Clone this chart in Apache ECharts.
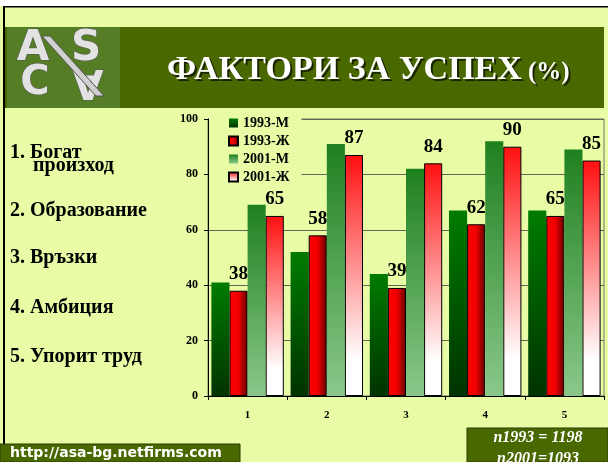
<!DOCTYPE html>
<html>
<head>
<meta charset="utf-8">
<script src="https://cdn.jsdelivr.net/npm/echarts@6/dist/echarts.min.js"></script>
<style>
  html, body { margin: 0; padding: 0; background: #fff; }
  #chart { width: 608px; height: 462px; }
</style>
</head>
<body>
<div id="chart"></div>
<script>
// Фактори за успех (%) — 1993 / 2001, мъже / жени
const categories = ['1', '2', '3', '4', '5']
const seriesNames = ['1993-М', '1993-Ж', '2001-М', '2001-Ж']
const m1993 = [41, 52, 44, 67, 67]
const f1993 = [38, 58, 39, 62, 65]
const m2001 = [69, 91, 82, 92, 89]
const f2001 = [65, 87, 84, 90, 85]
const yTicks = [0, 20, 40, 60, 80, 100]
const factorLabels = ['1. Богат', 'произход', '2. Образование', '3. Връзки', '4. Амбиция', '5. Упорит труд']
const sampleNotes = ['n1993 = 1198', 'n2001=1093']
const siteUrl = 'http://asa-bg.netfirms.com'
const titleText = 'ФАКТОРИ ЗА УСПЕХ'

const BG = '#e7fca5'
const HEAD = '#4a6800'
const SERIF = "'Liberation Serif', 'Times New Roman', serif"

const vgrad = (top, bottom) => new echarts.graphic.LinearGradient(0, 0, 0, 1, [
  { offset: 0, color: top }, { offset: 1, color: bottom }])

const barLabel = {
  show: true, position: 'top', distance: 7, color: '#000',
  fontFamily: SERIF, fontWeight: 'bold', fontSize: 19,
}

function logoText(ch, x, y, size, rot) {
  return {
    type: 'text', x, y, rotation: rot || 0, silent: true,
    style: { text: ch, fill: '#e2e2e2', stroke: '#555', lineWidth: 1,
      font: `bold ${size}px 'DejaVu Sans', sans-serif`, align: 'center', verticalAlign: 'middle' },
  }
}

// text centred vertically on y (y = baseline - ~0.32 * size)
function plainText(t, x, y, font, fill, align) {
  return { type: 'text', x, y, silent: true,
    style: { text: t, fill, font, align: align || 'left', verticalAlign: 'middle' } }
}

// left column of factor names
const factorPos = [[10, 153], [33, 166], [10, 211], [10, 258], [10, 308], [10, 357]]
const factorGraphics = factorLabels.map((t, i) =>
  plainText(t, factorPos[i][0], factorPos[i][1], `bold 20px ${SERIF}`, '#000'))

const chart = echarts.init(document.getElementById('chart'))
chart.setOption({
  backgroundColor: BG,
  animation: false,
  grid: {
    left: 208, right: 4, top: 119, bottom: 66,
    show: true, borderColor: '#777766', borderWidth: 1, backgroundColor: 'transparent',
  },
  legend: {
    orient: 'vertical', left: 209, top: 112,
    data: seriesNames,
    icon: 'rect',
    backgroundColor: BG,
    padding: [4, 12, 6, 19],
    itemWidth: 9, itemHeight: 9, itemGap: 4,
    textStyle: { fontFamily: SERIF, fontWeight: 'bold', fontSize: 14, lineHeight: 14, color: '#000' },
  },
  xAxis: {
    type: 'category', data: categories,
    axisLine: { lineStyle: { color: '#000', width: 1 } },
    axisTick: { show: true, length: 4, lineStyle: { color: '#000' } },
    axisLabel: { margin: 14, fontFamily: SERIF, fontWeight: 'bold', fontSize: 11, color: '#000' },
  },
  yAxis: {
    type: 'value', min: yTicks[0], max: yTicks[yTicks.length - 1], interval: 20,
    axisLine: { show: true, lineStyle: { color: '#000', width: 1 } },
    axisTick: { show: true, length: 4, lineStyle: { color: '#000' } },
    axisLabel: { margin: 10, fontFamily: SERIF, fontWeight: 'bold', fontSize: 12, color: '#000' },
    splitLine: { lineStyle: { color: '#666655', width: 1 } },
  },
  series: [
    {
      name: seriesNames[0], type: 'bar', data: m1993,
      barGap: '0%', barCategoryGap: '8.6%',
      itemStyle: { color: vgrad('#007c00', '#003300') },
    },
    {
      name: seriesNames[1], type: 'bar', data: f1993, label: barLabel,
      itemStyle: {
        color: new echarts.graphic.LinearGradient(0, 0, 1, 0, [
          { offset: 0, color: '#ff0000' }, { offset: 0.5, color: '#f00000' }, { offset: 1, color: '#600000' }]),
        borderColor: '#000', borderWidth: 1,
      },
    },
    {
      name: seriesNames[2], type: 'bar', data: m2001,
      itemStyle: { color: vgrad('#1f801f', '#8ac88a') },
    },
    {
      name: seriesNames[3], type: 'bar', data: f2001, label: barLabel,
      itemStyle: {
        color: new echarts.graphic.LinearGradient(0, 0, 0, 1, [
          { offset: 0, color: '#ff1010' }, { offset: 0.85, color: '#ffffff' }, { offset: 1, color: '#ffffff' }]),
        borderColor: '#000', borderWidth: 1,
      },
    },
  ],
  graphic: [
    // page frame
    { type: 'rect', shape: { x: 0, y: 0, width: 608, height: 6 }, style: { fill: '#fff' }, silent: true },
    { type: 'rect', shape: { x: 3, y: 6, width: 605, height: 1.5 }, style: { fill: '#000' }, silent: true },
    { type: 'rect', shape: { x: 3, y: 6, width: 2, height: 438 }, style: { fill: '#000' }, silent: true },
    // header band + logo
    { type: 'rect', shape: { x: 5, y: 27, width: 599, height: 81 }, style: { fill: HEAD }, silent: true },
    { type: 'rect', shape: { x: 7, y: 27, width: 113, height: 81 }, style: { fill: '#557d26' }, silent: true },
    logoText('A', 33, 49, 42),
    logoText('S', 86, 49, 42),
    logoText('C', 35, 84, 40),
    logoText('A', 88, 80, 40, Math.PI),
    { type: 'polygon', shape: { points: [[42, 36], [50, 36], [104, 96], [96, 96]] },
      style: { fill: '#d0d0d0', stroke: '#555', lineWidth: 1 }, silent: true },
    // title with shadow
    plainText(titleText, 169, 72, `bold 34px ${SERIF}`, '#1a2400'),
    plainText(titleText, 167, 70, `bold 34px ${SERIF}`, '#fff'),
    plainText('(%)', 530, 75, `bold 25px ${SERIF}`, '#1a2400'),
    plainText('(%)', 528, 73, `bold 25px ${SERIF}`, '#fff'),
    // bottom boxes
    { type: 'rect', shape: { x: 0, y: 444, width: 240, height: 18 }, style: { fill: HEAD, stroke: '#2a3a00', lineWidth: 1 }, silent: true },
    plainText(siteUrl, 10, 453, "bold 14px 'DejaVu Sans', sans-serif", '#fff'),
    { type: 'rect', shape: { x: 467, y: 428, width: 141, height: 34 }, style: { fill: HEAD, stroke: '#2a3a00', lineWidth: 1 }, silent: true },
    plainText(sampleNotes[0], 538, 438, `italic bold 16px ${SERIF}`, '#fff', 'center'),
    plainText(sampleNotes[1], 538, 459, `italic bold 16px ${SERIF}`, '#fff', 'center'),
  ].concat(factorGraphics),
})
</script>
</body>
</html>
